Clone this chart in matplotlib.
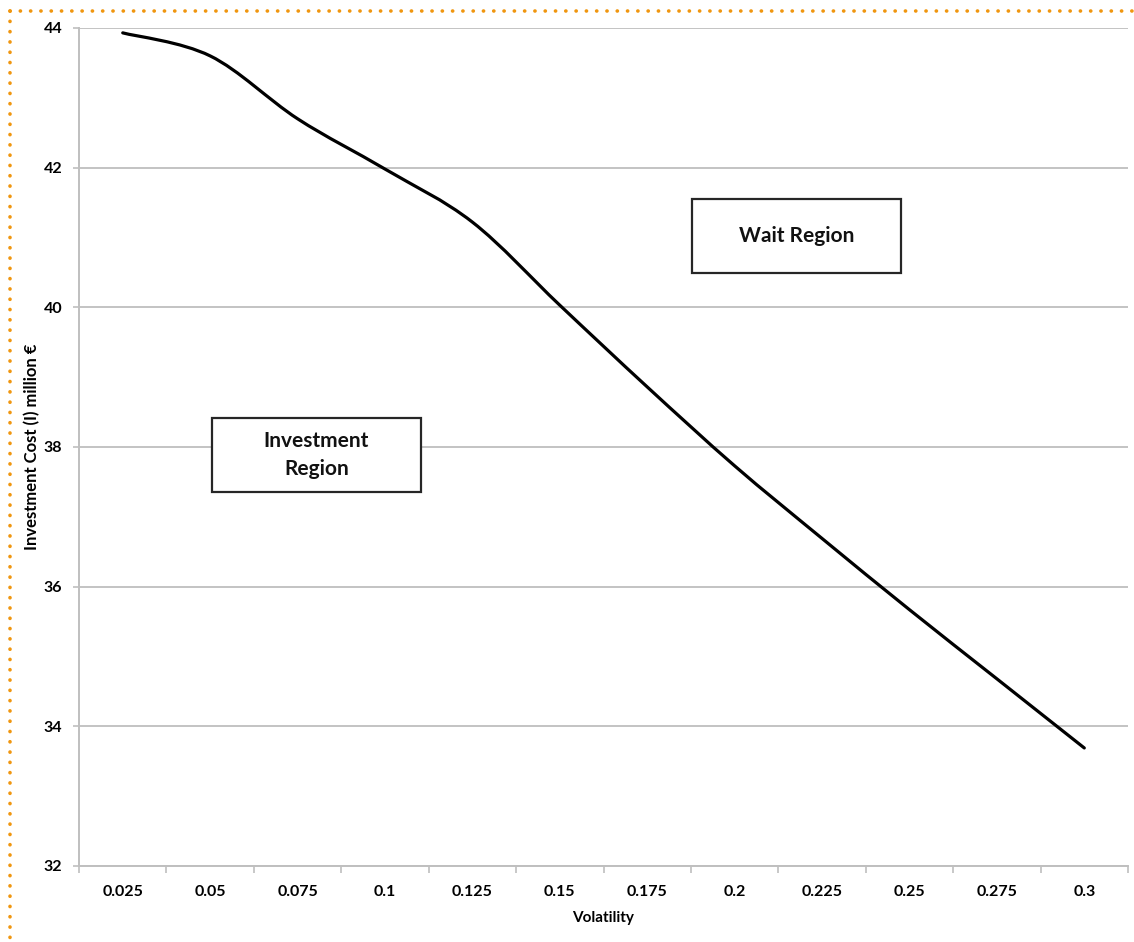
import matplotlib
matplotlib.use("Agg")
import matplotlib.pyplot as plt
from matplotlib.path import Path
from matplotlib.patches import PathPatch, Rectangle
from matplotlib.lines import Line2D
import numpy as np

plt.rcParams['font.family'] = ['Lato', 'DejaVu Sans']

# ---- data ----
volatility = ["0.025", "0.05", "0.075", "0.1", "0.125", "0.15",
              "0.175", "0.2", "0.225", "0.25", "0.275", "0.3"]
investment_cost = [43.93, 43.60, 42.70, 41.98, 41.22, 40.03,
                   38.86, 37.73, 36.69, 35.67, 34.68, 33.69]
y_ticks = [32, 34, 36, 38, 40, 42, 44]
x_label = "Volatility"
y_label = "Investment Cost (I) million €"
wait_label = "Wait Region"
invest_label = "Investment\nRegion"

fig = plt.figure(figsize=(11.34, 9.42), dpi=100)
ax = fig.add_axes([0.0697, 0.0807, 0.925, 0.8896])

n = len(volatility)
xs = np.arange(n, dtype=float)
ys = np.array(investment_cost, dtype=float)

# smoothed line (Excel-like Bezier through points)
px = np.concatenate([[xs[0]], xs, [xs[-1]]])
py = np.concatenate([[ys[0]], ys, [ys[-1]]])
verts = [(xs[0], ys[0])]
codes = [Path.MOVETO]
for i in range(n - 1):
    j = i + 1
    c1 = (px[j] + (px[j + 1] - px[j - 1]) / 6, py[j] + (py[j + 1] - py[j - 1]) / 6)
    c2 = (px[j + 1] - (px[j + 2] - px[j]) / 6, py[j + 1] - (py[j + 2] - py[j]) / 6)
    verts += [c1, c2, (px[j + 1], py[j + 1])]
    codes += [Path.CURVE4] * 3
ax.add_patch(PathPatch(Path(verts, codes), fill=False, edgecolor='black',
                       linewidth=2.3, capstyle='round', joinstyle='round', zorder=4))

ax.set_xlim(-0.5, n - 0.5)
ax.set_ylim(32, 44)

# ticks
ax.set_xticks(np.arange(-0.5, n, 1.0))
ax.set_xticklabels([])
ax.set_xticks(xs, minor=True)
ax.set_xticklabels(volatility, minor=True, fontsize=11.5, fontweight='bold')
ax.tick_params(axis='x', which='major', length=5, width=1.2, color='#bfbfbf', direction='out')
ax.tick_params(axis='x', which='minor', length=0, pad=14)
ax.set_yticks(y_ticks)
ax.set_yticklabels([str(v) for v in y_ticks], fontsize=11.5, fontweight='bold')
ax.tick_params(axis='y', length=4, width=1.2, color='#bfbfbf', pad=8)

ax.grid(axis='y', color='#c3c3c3', linewidth=1.4, zorder=0)
ax.set_axisbelow(True)
for s in ['top', 'right']:
    ax.spines[s].set_visible(False)
for s in ['left', 'bottom']:
    ax.spines[s].set_color('#bfbfbf')
    ax.spines[s].set_linewidth(1.4)

ax.set_xlabel(x_label, fontsize=11, fontweight='bold', labelpad=8)
ax.set_ylabel(y_label, fontsize=12, fontweight='bold')
ax.yaxis.set_label_coords(-0.037, 0.5)

# region boxes
for (x0, y0), txt in [((0.5844, 0.7076), wait_label), ((0.1268, 0.4463), invest_label)]:
    ax.add_patch(Rectangle((x0, y0), 0.1992, 0.0883, transform=ax.transAxes,
                           facecolor='white', edgecolor='#262626', linewidth=1.6, zorder=5))
    ax.text(x0 + 0.0996, y0 + 0.0441, txt, transform=ax.transAxes, ha='center', va='center',
            fontsize=15, fontweight='bold', linespacing=1.45, zorder=6, color='#111111')

# orange dotted frame
fig.add_artist(Line2D([10 / 1134, 1.0], [1 - 11 / 942, 1 - 11 / 942], transform=fig.transFigure,
                      color='#f0960f', linewidth=2.6, linestyle=(0, (0.05, 2.8)),
                      dash_capstyle='round'))
fig.add_artist(Line2D([10 / 1134, 10 / 1134], [1 - 11 / 942, 0.0], transform=fig.transFigure,
                      color='#f0960f', linewidth=2.6, linestyle=(0, (0.05, 2.8)),
                      dash_capstyle='round'))

fig.savefig("out.png", dpi=100)
